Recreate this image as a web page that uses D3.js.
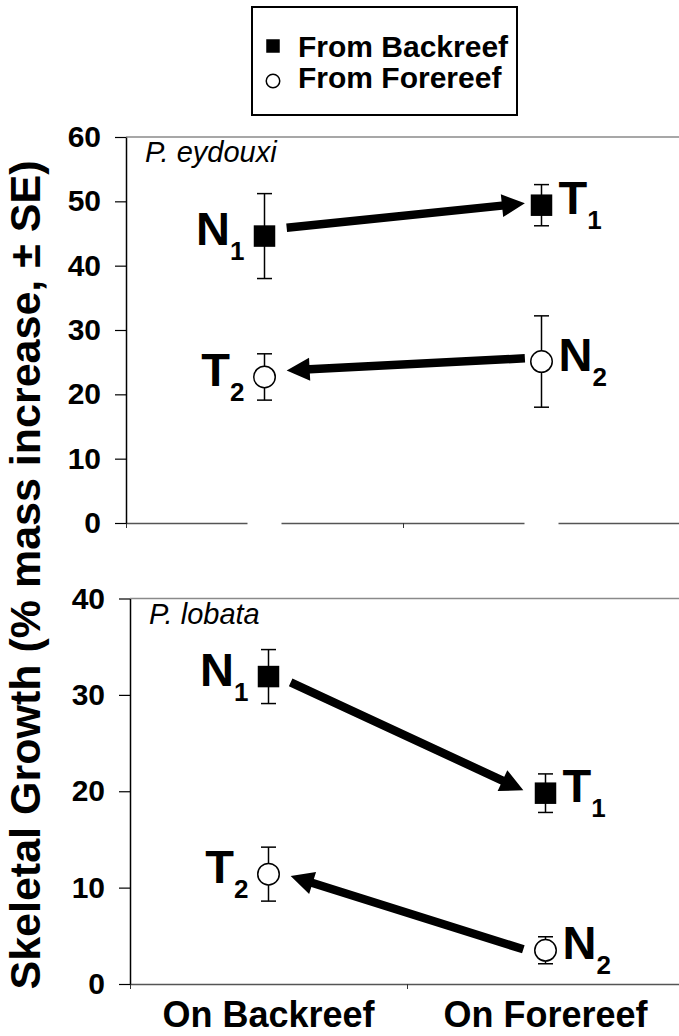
<!DOCTYPE html>
<html>
<head>
<meta charset="utf-8">
<script src="https://cdn.jsdelivr.net/npm/d3@7"></script>
<style>
  body { margin: 0; background: #fff; }
  svg { display: block; font-family: "Liberation Sans", Arial, sans-serif; }
</style>
</head>
<body>
<div id="chart"></div>
<script>
// ---- data ----
const categories = ["On Backreef", "On Forereef"];
const sources = ["From Backreef", "From Forereef"];
const species = ["P. eydouxi", "P. lobata"];
const yMaxes = [60, 40];

// means / SE per species, per source, at [On Backreef, On Forereef]
const eydouxiBackMean = [44.6, 49.4];
const eydouxiBackSE = [6.6, 3.2];
const eydouxiForeMean = [22.7, 25.1];
const eydouxiForeSE = [3.6, 7.1];
const lobataBackMean = [31.9, 19.8];
const lobataBackSE = [2.8, 2.0];
const lobataForeMean = [11.4, 3.5];
const lobataForeSE = [2.8, 1.4];

// N = native site, T = transplant site
const backLabels = [["N", "1"], ["T", "1"]];
const foreLabels = [["T", "2"], ["N", "2"]];

// arrows, in (category position, value) units: native -> transplant
const eydouxiArrows = [
  {from: [0.08, 45.9], to: [0.94, 49.7]},
  {from: [0.94, 25.6], to: [0.08, 23.7]}
];
const lobataArrows = [
  {from: [0.08, 31.3], to: [0.92, 20.1]},
  {from: [0.92, 3.6], to: [0.08, 11.2]}
];

const panelData = [
  {name: species[0], yMax: yMaxes[0], arrows: eydouxiArrows, series: [
    {source: sources[0], mean: eydouxiBackMean, se: eydouxiBackSE, labels: backLabels},
    {source: sources[1], mean: eydouxiForeMean, se: eydouxiForeSE, labels: foreLabels}
  ]},
  {name: species[1], yMax: yMaxes[1], arrows: lobataArrows, series: [
    {source: sources[0], mean: lobataBackMean, se: lobataBackSE, labels: backLabels},
    {source: sources[1], mean: lobataForeMean, se: lobataForeSE, labels: foreLabels}
  ]}
];

// ---- layout ----
const W = 679, H = 1036;
const frames = [
  {left: 126, right: 680, top: 137, bottom: 523},
  {left: 130, right: 684, top: 598.5, bottom: 984}
];

const svg = d3.select("#chart").append("svg")
  .attr("width", W)
  .attr("height", H);

function drawMarker(g, type, cx, cy, size) {
  if (type === sources[0]) {
    g.append("rect")
      .attr("x", cx - size / 2).attr("y", cy - size / 2)
      .attr("width", size).attr("height", size)
      .attr("fill", "#000");
  } else {
    g.append("circle")
      .attr("cx", cx).attr("cy", cy).attr("r", size / 2)
      .attr("fill", "#fff").attr("stroke", "#000").attr("stroke-width", 1.5);
  }
}

function arrowPath(x0, y0, x1, y1, shaft, headLen, headW) {
  const dx = x1 - x0, dy = y1 - y0;
  const len = Math.hypot(dx, dy);
  const ux = dx / len, uy = dy / len;
  const px = -uy, py = ux;
  const bx = x1 - ux * headLen, by = y1 - uy * headLen;
  const s = shaft / 2, h = headW / 2;
  const pts = [
    [x0 + px * s, y0 + py * s],
    [bx + px * s, by + py * s],
    [bx + px * h, by + py * h],
    [x1, y1],
    [bx - px * h, by - py * h],
    [bx - px * s, by - py * s],
    [x0 - px * s, y0 - py * s]
  ];
  return "M" + pts.map(p => p.join(",")).join("L") + "Z";
}

panelData.forEach((panel, i) => {
  const f = frames[i];
  const g = svg.append("g");

  const y = d3.scaleLinear().domain([0, panel.yMax]).range([f.bottom, f.top]);
  const xAxisScale = d3.scaleLinear().domain([0, categories.length]).range([f.left, f.right]);
  // category centres
  const x = d3.scaleLinear().domain([0, 1]).range([xAxisScale(0.5), xAxisScale(1.5)]);

  // top frame line
  g.append("line")
    .attr("x1", f.left).attr("x2", f.right)
    .attr("y1", f.top).attr("y2", f.top)
    .attr("stroke", "#8a8a8a").attr("stroke-width", 1.5);

  // x axis
  const xAxis = g.append("g")
    .attr("transform", `translate(0,${f.bottom})`)
    .call(d3.axisBottom(xAxisScale).tickValues([0, 1, 2]).tickFormat("").tickSize(5).tickSizeOuter(0));
  xAxis.select(".domain").attr("stroke", "#555").attr("stroke-width", 1.5);
  xAxis.selectAll(".tick line").attr("stroke", "#333");

  if (i === 0) {
    // breaks in the upper x axis under each category
    g.selectAll(".gap").data(categories).join("rect")
      .attr("x", (d, k) => x(k) - 17).attr("y", f.bottom - 2)
      .attr("width", 34).attr("height", 4)
      .attr("fill", "#fff");
  } else {
    g.selectAll(".cat").data(categories).join("text")
      .attr("x", (d, k) => x(k)).attr("y", 1027)
      .attr("text-anchor", "middle")
      .attr("font-size", 36).attr("font-weight", "bold")
      .text(d => d);
  }

  // y axis
  const yAxis = g.append("g")
    .attr("transform", `translate(${f.left},0)`)
    .call(d3.axisLeft(y).tickValues(d3.range(0, panel.yMax + 1, 10)).tickSize(11).tickPadding(14).tickSizeOuter(0));
  yAxis.select(".domain").attr("stroke", "#000").attr("stroke-width", 1.5);
  yAxis.selectAll(".tick line").attr("stroke", "#000").attr("stroke-width", 1.2);
  yAxis.selectAll(".tick text")
    .attr("font-size", 30).attr("font-weight", "bold")
    .attr("font-family", "Liberation Sans, Arial, sans-serif")
    .attr("fill", "#000");

  // species name
  g.append("text")
    .attr("x", f.left + 19).attr("y", f.top + 25)
    .attr("font-size", 29).attr("font-style", "italic")
    .text(panel.name);

  // arrows
  g.selectAll(".arrow").data(panel.arrows).join("path")
    .attr("d", a => arrowPath(x(a.from[0]), y(a.from[1]), x(a.to[0]), y(a.to[1]), 8.5, 23, 23))
    .attr("fill", "#000");

  // error bars, markers, labels
  panel.series.forEach(s => {
    s.mean.forEach((m, k) => {
      const cx = x(k);
      const hi = y(m + s.se[k]), lo = y(m - s.se[k]);
      g.append("line")
        .attr("x1", cx).attr("x2", cx).attr("y1", hi).attr("y2", lo)
        .attr("stroke", "#000").attr("stroke-width", 1.5);
      [hi, lo].forEach(yy => g.append("line")
        .attr("x1", cx - 7.5).attr("x2", cx + 7.5).attr("y1", yy).attr("y2", yy)
        .attr("stroke", "#000").attr("stroke-width", 1.5));
      drawMarker(g, s.source, cx, y(m), 21.5);

      const lab = s.labels[k];
      const left = k === 0;
      const t = g.append("text")
        .attr("x", left ? cx - 20 : cx + 17)
        .attr("y", y(m) + 9)
        .attr("text-anchor", left ? "end" : "start")
        .attr("font-weight", "bold");
      t.append("tspan").attr("font-size", 47).text(lab[0]);
      t.append("tspan").attr("font-size", 26).attr("dy", 15).text(lab[1]);
    });
  });
});

// y axis title
svg.append("text")
  .attr("transform", "translate(40,575) rotate(-90)")
  .attr("text-anchor", "middle")
  .attr("font-size", 43).attr("font-weight", "bold")
  .text("Skeletal Growth (% mass increase, \u00b1 SE)");

// legend
const legend = svg.append("g");
legend.append("rect")
  .attr("x", 252).attr("y", 7).attr("width", 265).attr("height", 108)
  .attr("fill", "#fff").attr("stroke", "#000").attr("stroke-width", 2);
sources.forEach((s, k) => {
  const base = 57 + k * 31;
  drawMarker(legend, s, 273, base - (k === 0 ? 11 : 7), 13.5);
  legend.append("text")
    .attr("x", 298).attr("y", base)
    .attr("font-size", 30).attr("font-weight", "bold")
    .text(s);
});
</script>
</body>
</html>
